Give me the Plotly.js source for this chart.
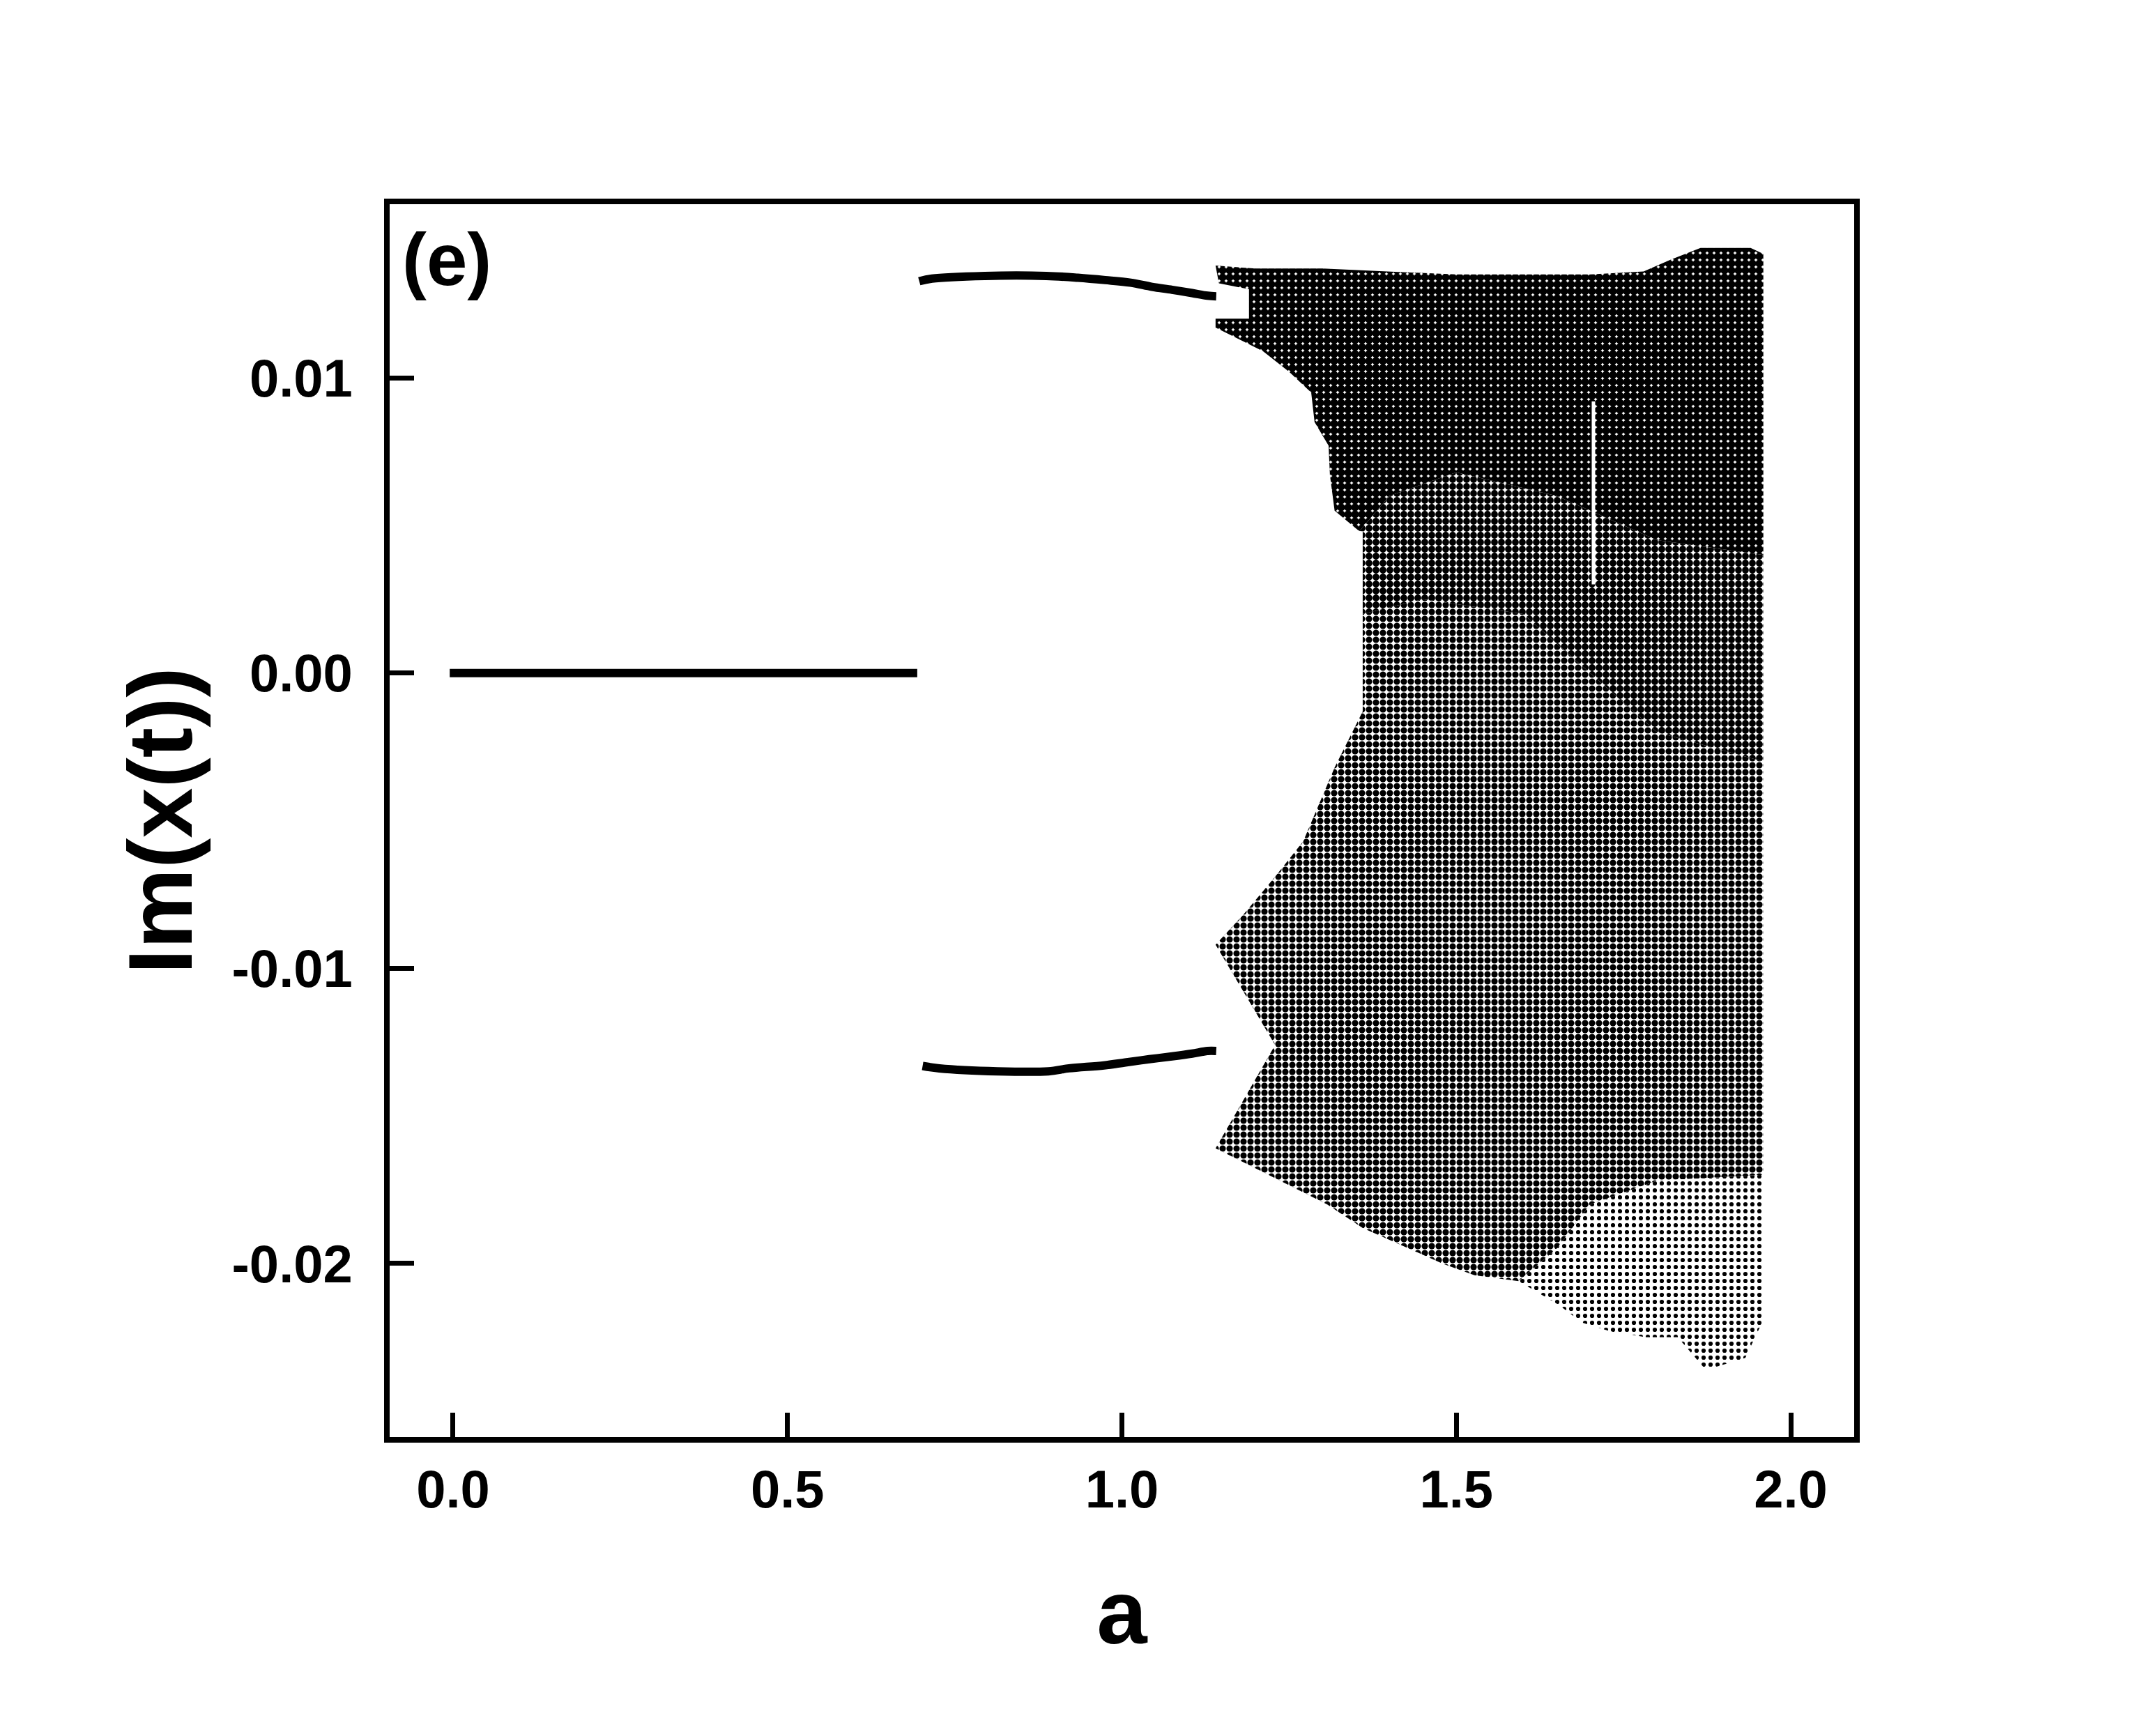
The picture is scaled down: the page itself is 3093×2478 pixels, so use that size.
<!DOCTYPE html>
<html>
<head>
<meta charset="utf-8">
<script src="https://cdn.plot.ly/plotly-3.0.1.min.js"></script>
<style>html,body{margin:0;padding:0;background:#fff;}</style>
</head>
<body>
<div id="chart" style="width:3093px;height:2478px;"></div>
<script>
// ---- data ----
// stable fixed point (Im = 0)
var aFixed  = [-0.005, 0.10, 0.20, 0.30, 0.40, 0.50, 0.60, 0.694];
var imFixed = [0, 0, 0, 0, 0, 0, 0, 0];

// period-2 branches
var aUpper  = [0.697, 0.716, 0.795, 0.887, 0.934, 0.975, 1.013, 1.045, 1.075, 1.105, 1.128, 1.141];
var imUpper = [0.01327, 0.01336, 0.01345, 0.01345, 0.01339, 0.01331, 0.01322, 0.01308, 0.01298, 0.01287, 0.01278, 0.01276];
var aLower  = [0.702, 0.727, 0.814, 0.890, 0.921, 0.973, 1.005, 1.041, 1.077, 1.105, 1.128, 1.141];
var imLower = [-0.01331, -0.01339, -0.01349, -0.01349, -0.01339, -0.01329, -0.01319, -0.01308, -0.01298, -0.01289, -0.01280, -0.01280];

// chaotic band: outline of the densest (upper) part
var aChaosDense  = [1.140, 1.200, 1.300, 1.400, 1.500, 1.600, 1.700, 1.780, 1.820, 1.865, 1.940, 1.959,
                    1.959, 1.800, 1.650, 1.500, 1.400, 1.355,
                    1.318, 1.311, 1.309, 1.288, 1.283, 1.250, 1.211, 1.140,
                    1.140, 1.190, 1.190, 1.145, 1.140];
var imChaosDense = [0.0138, 0.0137, 0.0137, 0.0136, 0.0135, 0.0135, 0.0135, 0.0136, 0.0140, 0.0144, 0.0144, 0.0142,
                    0.0040, 0.0045, 0.0060, 0.0068, 0.0060, 0.0048,
                    0.0055, 0.0067, 0.0077, 0.0085, 0.0095, 0.0102, 0.0109, 0.0117,
                    0.0120, 0.0120, 0.0130, 0.0132, 0.0138];

// chaotic band: transition part around Im = 0
var aChaosTrans  = [1.959, 1.800, 1.650, 1.500, 1.400, 1.355, 1.360, 1.360, 1.450, 1.600, 1.700, 1.800, 1.959];
var imChaosTrans = [0.0040, 0.0045, 0.0060, 0.0068, 0.0060, 0.0048, 0.0048, 0.0020, 0.0025, 0.0020, 0.0000, -0.0020, -0.0030];

// chaotic band: outline of the medium-density lower part
var aChaosMid  = [1.360, 1.450, 1.600, 1.700, 1.800, 1.959,
                  1.959, 1.800, 1.700, 1.650, 1.593, 1.527, 1.479, 1.390, 1.360, 1.307, 1.211, 1.140,
                  1.229, 1.140, 1.181, 1.229, 1.271, 1.318, 1.360, 1.360];
var imChaosMid = [0.0020, 0.0025, 0.0020, 0.0000, -0.0020, -0.0030,
                  -0.0170, -0.0172, -0.0180, -0.0195, -0.0206, -0.0204, -0.0200, -0.0191, -0.0188, -0.0180, -0.0169, -0.0161,
                  -0.0126, -0.0092, -0.0082, -0.0069, -0.0057, -0.0032, -0.0013, 0.0020];

// chaotic band: sparse fringe at the bottom right
var aChaosSparse  = [1.593, 1.650, 1.700, 1.800, 1.959, 1.959, 1.953, 1.932, 1.903, 1.873, 1.831, 1.784, 1.730, 1.688, 1.653, 1.593];
var imChaosSparse = [-0.0206, -0.0195, -0.0180, -0.0172, -0.0170, -0.0220, -0.0222, -0.0232, -0.0234, -0.0236, -0.0225, -0.0225, -0.0223, -0.0220, -0.0214, -0.0206];

// periodic window (white gap) inside the chaotic band
var aWindow  = [1.705, 1.705];
var imWindow = [0.0092, 0.0030];

// axis ticks
var xTickVals = [0.0, 0.5, 1.0, 1.5, 2.0];
var xTickText = ['0.0', '0.5', '1.0', '1.5', '2.0'];
var yTickVals = [-0.02, -0.01, 0.00, 0.01];
var yTickText = ['-0.02', '-0.01', '0.00', '0.01'];

// ---- drawing ----
var FONT = 'Liberation Sans, Arial, Helvetica, sans-serif';

function patternFill(a, im, solidity) {
  return {
    x: a, y: im, type: 'scatter', mode: 'lines', fill: 'toself',
    line: {width: 0, color: 'rgba(0,0,0,0)'},
    fillcolor: 'rgba(0,0,0,0)',
    fillpattern: {shape: '.', fgcolor: '#000000', bgcolor: '#ffffff', size: 10, solidity: solidity, fillmode: 'replace'},
    hoverinfo: 'skip', showlegend: false
  };
}

var traces = [
  patternFill(aChaosMid, imChaosMid, 0.66),
  patternFill(aChaosSparse, imChaosSparse, 0.3),
  patternFill(aChaosTrans, imChaosTrans, 0.75),
  patternFill(aChaosDense, imChaosDense, 0.84),
  {x: aWindow, y: imWindow, type: 'scatter', mode: 'lines', line: {color: '#ffffff', width: 5}, showlegend: false, hoverinfo: 'skip'},
  {x: aFixed, y: imFixed, type: 'scatter', mode: 'lines', line: {color: '#000000', width: 12}, showlegend: false},
  {x: aUpper, y: imUpper, type: 'scatter', mode: 'lines', line: {color: '#000000', width: 12, shape: 'spline'}, showlegend: false},
  {x: aLower, y: imLower, type: 'scatter', mode: 'lines', line: {color: '#000000', width: 12, shape: 'spline'}, showlegend: false}
];

var axisCommon = {
  showgrid: false, zeroline: false,
  showline: true, mirror: true, linecolor: '#000000', linewidth: 8,
  ticks: 'inside', ticklen: 35, tickwidth: 7, tickcolor: '#000000',
  tickfont: {family: FONT, size: 76, color: '#000000', weight: 'bold'}
};

var layout = {
  width: 3093, height: 2478,
  margin: {l: 559, r: 433, t: 293, b: 416},
  paper_bgcolor: '#ffffff', plot_bgcolor: '#ffffff',
  showlegend: false,
  xaxis: Object.assign({}, axisCommon, {
    range: [-0.0948, 2.0948], tickmode: 'array', tickvals: xTickVals, ticktext: xTickText,
    ticklabelstandoff: 2,
    title: {text: 'a', font: {family: FONT, size: 130, color: '#000000', weight: 'bold'}, standoff: 92}
  }),
  yaxis: Object.assign({}, axisCommon, {
    range: [-0.02588, 0.01588], tickmode: 'array', tickvals: yTickVals, ticktext: yTickText,
    ticklabelstandoff: 30,
    title: {text: 'Im(x(t))', font: {family: FONT, size: 130, color: '#000000', weight: 'bold'}, standoff: 16}
  }),
  annotations: [{
    text: '(e)', xref: 'paper', yref: 'paper', x: 0, y: 0.9550,
    xanchor: 'left', yanchor: 'middle', xshift: 16, showarrow: false,
    font: {family: FONT, size: 105, color: '#000000', weight: 'bold'}
  }]
};

Plotly.newPlot('chart', traces, layout, {staticPlot: true, displayModeBar: false});
</script>
</body>
</html>
